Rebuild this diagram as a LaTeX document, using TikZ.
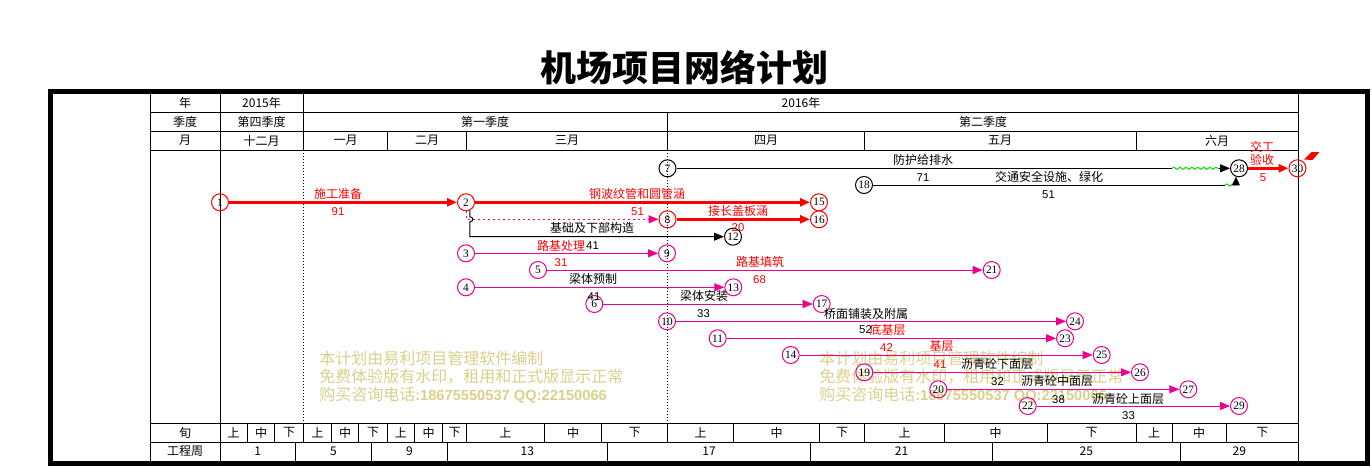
\documentclass[tikz,border=0pt]{standalone}
\usepackage{fontspec}
\setmainfont{Noto Sans CJK SC}
\newfontfamily\serifnum{Liberation Serif}
\newfontfamily\numsans{Liberation Sans}
\usetikzlibrary{arrows.meta,decorations.pathmorphing}
\definecolor{wmark}{RGB}{218,208,140}
\definecolor{wgreen}{RGB}{0,225,0}
\tikzset{
  nd/.style={circle,draw,minimum size=12.75pt,inner sep=0pt,line width=0.75pt,font=\serifnum\fontsize{8.5}{8.5}\selectfont},
  rn/.style={nd,draw=red},
  kn/.style={nd,draw=black},
  mn/.style={nd,draw=magenta},
  arw/.style={-{Triangle[length=7.5pt,width=6pt]}},
  crit/.style={arw,red,line width=2.6pt},
  mline/.style={arw,magenta,line width=0.75pt},
  kline/.style={black,line width=0.75pt},
  wavy/.style={wgreen,line width=0.75pt,decorate,decoration={snake,segment length=4.5pt,amplitude=0.8pt}},
  tline/.style={black,line width=0.75pt},
  dline/.style={black,line width=0.75pt,dash pattern=on 0.75pt off 1.5pt},
  hd/.style={inner sep=0pt,font=\fontsize{9}{9}\selectfont},
  lb/.style={inner sep=0pt,font=\fontsize{9}{9}\selectfont},
  rl/.style={lb,text=red},
  kl/.style={lb,text=black},
  nl/.style={inner sep=0pt,font=\numsans\fontsize{8.5}{8.5}\selectfont},
  rnl/.style={nl,text=red},
  knl/.style={nl,text=black},
  wm/.style={inner sep=0pt,anchor=west,text=wmark,font=\fontsize{12}{12}\selectfont},
}
\newcommand{\wmlatin}[1]{{\numsans\bfseries\fontsize{11}{12}\selectfont #1}}
\begin{document}
\begin{tikzpicture}[x=0.75pt,y=-0.75pt]
\useasboundingbox (0,0) rectangle (1372,468);
% title
\node[inner sep=0pt,font=\bfseries\fontsize{27}{27}\selectfont] (title) at (684,68) {机场项目网络计划};
% watermarks
\node[wm] (wa1) at (319,358) {本计划由易利项目管理软件编制};
\node[wm] (wa2) at (319,376.5) {免费体验版有水印，租用和正式版显示正常};
\node[wm] (wa3) at (319,395) {购买咨询电话\wmlatin{:18675550537 QQ:22150066}};
\node[wm] (wb1) at (819,358) {本计划由易利项目管理软件编制};
\node[wm] (wb2) at (819,376.5) {免费体验版有水印，租用和正式版显示正常};
\node[wm] (wb3) at (819,395) {购买咨询电话\wmlatin{:18675550537 QQ:22150066}};
% table grid
\draw[tline] (150,91.5) -- (150,463.5);
\draw[tline] (1298.6,91.5) -- (1298.6,463.5);
\foreach \y in {112,131,150,423,442} \draw[tline] (150,\y) -- (1298.6,\y);
\draw[tline] (220,91.5) -- (220,463.5);
\draw[tline] (303.5,91.5) -- (303.5,150);
\draw[tline] (667.5,112) -- (667.5,150);
\draw[dline] (303.5,150) -- (303.5,423);
\draw[dline] (667.5,150) -- (667.5,423);
\foreach \x in {387.6,466.5,864.5,1136} \draw[tline] (\x,131) -- (\x,150);
\foreach \x in {247.5,274.4,303.5,331.7,358.6,387.6,414.2,442.8,466.5,544.2,601.9,667.5,733.6,819.5,864.5,944.5,1047,1136,1172,1226}
  \draw[tline] (\x,423) -- (\x,442);
\foreach \x in {295.5,371.6,447.4,607.3,810.5,992.7,1180}
  \draw[tline] (\x,442) -- (\x,463.5);
% frame
\draw[line width=3.4pt] (50.5,91.5) rectangle (1367.5,463.5);
% header texts
\node[hd] (h1) at (185,103) {年};
\node[hd] (h2) at (261.5,103) {2015年};
\node[hd] (h3) at (801,103) {2016年};
\node[hd] (q1) at (185,121.5) {季度};
\node[hd] (q2) at (261.5,121.5) {第四季度};
\node[hd] (q3) at (485,121.5) {第一季度};
\node[hd] (q4) at (983,121.5) {第二季度};
\node[hd] (m0) at (185,140.5) {月};
\node[hd] (m1) at (261.5,140.5) {十二月};
\node[hd] (m2) at (345.5,140.5) {一月};
\node[hd] (m3) at (427,140.5) {二月};
\node[hd] (m4) at (567,140.5) {三月};
\node[hd] (m5) at (766,140.5) {四月};
\node[hd] (m6) at (1000,140.5) {五月};
\node[hd] (m7) at (1217,140.5) {六月};
\node[hd] (x0) at (185,432.5) {旬};
\foreach \x/\t [count=\i] in {233.7/上,261/中,289/下,317.6/上,345.2/中,373.1/下,400.9/上,428.5/中,454.7/下,505.4/上,573/中,634.7/下,700.5/上,776.5/中,842/下,904.5/上,995.7/中,1091.5/下,1154/上,1199/中,1262.3/下}
  \node[hd] (xun\i) at (\x,432.5) {\t};
\node[hd] (w0) at (185,451.5) {工程周};
\foreach \x/\t [count=\i] in {257.8/1,333.5/5,409.5/9,527.4/13,709/17,901.6/21,1086.4/25,1239.3/29}
  \node[hd] (wk\i) at (\x,451.5) {\t};
% nodes
\node[rn] (n1) at (220,202.3) {1};
\node[rn] (n2) at (466,202.3) {2};
\node[kn] (n7) at (667.5,168.3) {7};
\node[kn] (n18) at (864,185) {18};
\node[rn] (n15) at (819,202.3) {15};
\node[rn] (n8) at (667.5,219.3) {8};
\node[rn] (n16) at (819,219.3) {16};
\node[kn] (n12) at (733,236.7) {12};
\node[kn] (n28) at (1239,168.3) {28};
\node[rn] (n30) at (1297.5,168.3) {30};
\node[mn] (n3) at (466,253.3) {3};
\node[mn] (n9) at (667,253.3) {9};
\node[mn] (n5) at (538,270) {5};
\node[mn] (n21) at (991.7,270) {21};
\node[mn] (n4) at (466,287.3) {4};
\node[mn] (n13) at (733.3,287.3) {13};
\node[mn] (n6) at (594.3,304) {6};
\node[mn] (n17) at (821.7,304) {17};
\node[mn] (n10) at (667,321.3) {10};
\node[mn] (n24) at (1075,321.3) {24};
\node[mn] (n11) at (717.7,338.3) {11};
\node[mn] (n23) at (1065,338.3) {23};
\node[mn] (n14) at (790.7,355) {14};
\node[mn] (n25) at (1101.7,355) {25};
\node[mn] (n19) at (864.3,372.3) {19};
\node[mn] (n26) at (1140,372.3) {26};
\node[mn] (n20) at (938.3,389.3) {20};
\node[mn] (n27) at (1188.3,389.3) {27};
\node[mn] (n22) at (1027.7,406) {22};
\node[mn] (n29) at (1239,406) {29};
% flag
\fill[red] (1304,159.5) -- (1311.5,152) -- (1319.5,152) -- (1312.5,160) -- cycle;
% critical edges
\draw[crit] (n1) -- (n2);
\draw[crit] (n2) -- (n15);
\draw[crit] (n8) -- (n16);
\draw[crit] (n28) -- (n30);
% dummy / other
\draw[mline,dash pattern=on 1.5pt off 2.25pt] (n2.south) |- (n8);
\draw[kline,arw] (n2.-65) -- (469.8,216.8) .. controls (473.8,216.8) and (473.8,221.8) .. (469.8,221.8) |- (n12);
\coordinate (w1) at (1172,168.3);
\coordinate (w2) at (1219,168.3);
\draw[kline] (n7) -- (w1);
\draw[wavy] (w1) -- (w2);
\draw[kline,arw] (w2) -- (n28);
\coordinate (w3) at (1225,185);
\coordinate (w4) at (1235.9,185);
\draw[kline] (n18) -- (w3);
\draw[wavy] (w3) -- (w4);
\draw[kline,-{Triangle[length=6.5pt,width=6pt]}] (w4) -- (n28.-110);
% magenta edges
\draw[mline] (n3) -- (n9);
\draw[mline] (n5) -- (n21);
\draw[mline] (n4) -- (n13);
\draw[mline] (n6) -- (n17);
\draw[mline] (n10) -- (n24);
\draw[mline] (n11) -- (n23);
\draw[mline] (n14) -- (n25);
\draw[mline] (n19) -- (n26);
\draw[mline] (n20) -- (n27);
\draw[mline] (n22) -- (n29);
% labels
\node[rl] (l1) at (338,194) {施工准备};
\node[rnl] (d1) at (338,212) {91};
\node[rl] (l2) at (637,194) {钢波纹管和圆管涵};
\node[rnl] (d2) at (637.5,212) {51};
\node[rl] (l3) at (738,211) {接长盖板涵};
\node[rnl] (d3) at (738,228) {20};
\node[kl] (l4) at (592,228) {基础及下部构造};
\node[kl] (l5) at (923,160.3) {防护给排水};
\node[knl] (d5) at (923,177.7) {71};
\node[kl] (l6) at (1049,177) {交通安全设施、绿化};
\node[knl] (d6) at (1048.5,195) {51};
\node[rl] (l7a) at (1262,146.5) {交工};
\node[rl] (l7b) at (1262,160) {验收};
\node[rnl] (d7) at (1263,177.7) {5};
\node[rl] (l8) at (561,245.5) {路基处理};
\node[knl] (d8) at (592.5,245.5) {41};
\node[rnl] (d9) at (561,262.5) {31};
\node[rl] (l9) at (760,261.5) {路基填筑};
\node[rnl] (d10) at (759.5,280) {68};
\node[kl] (l10) at (593,278.5) {梁体预制};
\node[knl] (d11) at (594,296.5) {41};
\node[kl] (l11) at (704,296) {梁体安装};
\node[knl] (d12) at (703.5,314) {33};
\node[kl] (l12) at (866,314) {桥面铺装及附属};
\node[knl] (d13) at (865.5,330) {52};
\node[rl] (l13) at (887.5,330) {底基层};
\node[rnl] (d14) at (886.5,347.5) {42};
\node[rl] (l14) at (941.5,346) {基层};
\node[kl] (l15) at (997,363.5) {沥青砼下面层};
\node[rnl] (d15) at (940,365) {41};
\node[kl] (l16) at (1057,381) {沥青砼中面层};
\node[knl] (d16) at (997.5,381.7) {32};
\node[kl] (l17) at (1128,398.5) {沥青砼上面层};
\node[knl] (d17) at (1058.5,399.3) {38};
\node[knl] (d18) at (1128.5,416) {33};
\end{tikzpicture}
\end{document}
